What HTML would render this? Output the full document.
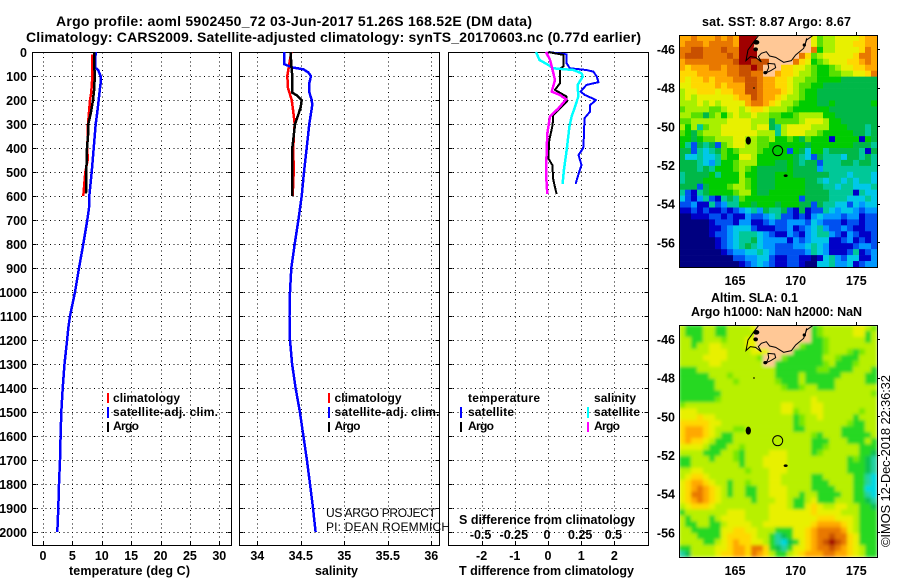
<!DOCTYPE html>
<html lang="en">
<head>
<meta charset="utf-8">
<title>Argo profile 5902450_72</title>
<style>
html,body{margin:0;padding:0;background:#fff;}
svg{display:block;}
text{font-family:"Liberation Sans",sans-serif;font-weight:bold;font-size:12.5px;fill:#000;}
.thin{font-weight:normal;font-size:12px;}
.stamp{font-weight:normal;font-size:13px;}
.lg text{font-size:12px;}
</style>
</head>
<body>
<svg id="chart" xmlns="http://www.w3.org/2000/svg" width="900" height="580" viewBox="0 0 900 580">
<defs>
<clipPath id="clip-map"><rect x="0" y="0" width="198" height="232"/></clipPath>
<filter id="soft" x="-5%" y="-5%" width="110%" height="110%"><feGaussianBlur stdDeviation="1.6"/></filter>
</defs>
<rect width="900" height="580" fill="#fff"/>
<text x="56" y="26" style="font-size:14px" textLength="476" lengthAdjust="spacing">Argo profile: aoml 5902450_72 03-Jun-2017 51.26S 168.52E (DM data)</text>
<text x="26" y="42" style="font-size:14px" textLength="615" lengthAdjust="spacing">Climatology: CARS2009. Satellite-adjusted climatology: synTS_20170603.nc (0.77d earlier)</text>
<g id="panel-t"></g>
<g id="panel-s"></g>
<g id="panel-d"></g>

<text x="69" y="575" textLength="121" lengthAdjust="spacing">temperature (deg C)</text>
<text x="315" y="575" textLength="43" lengthAdjust="spacing">salinity</text>
<text x="459" y="575" textLength="175" lengthAdjust="spacing">T difference from climatology</text>
<text x="459" y="524" textLength="176" lengthAdjust="spacing">S difference from climatology</text>

<g class="lg">
<rect x="107" y="393" width="2" height="10" fill="#f00"/>
<text x="113" y="402" textLength="67" lengthAdjust="spacing">climatology</text>
<rect x="107" y="407" width="2" height="11" fill="#00f"/>
<text x="113" y="416" textLength="105" lengthAdjust="spacing">satellite-adj. clim.</text>
<rect x="107" y="422" width="2" height="10" fill="#000"/>
<text x="113" y="430" textLength="26" lengthAdjust="spacing">Argo</text>
</g>
<g class="lg">
<rect x="328" y="393" width="2" height="10" fill="#f00"/>
<text x="334.5" y="402" textLength="67" lengthAdjust="spacing">climatology</text>
<rect x="328" y="407" width="2" height="11" fill="#00f"/>
<text x="334.5" y="416" textLength="105" lengthAdjust="spacing">satellite-adj. clim.</text>
<rect x="328" y="422" width="2" height="10" fill="#000"/>
<text x="334.5" y="430" textLength="26" lengthAdjust="spacing">Argo</text>
</g>
<text class="thin" x="326" y="517" textLength="110" lengthAdjust="spacing">US ARGO PROJECT</text>
<text class="thin" x="326" y="531" textLength="124" lengthAdjust="spacing">PI: DEAN ROEMMICH</text>
<g class="lg">
<text x="468" y="402" textLength="72" lengthAdjust="spacing">temperature</text>
<rect x="460" y="407" width="2" height="11" fill="#00f"/>
<text x="468" y="416" textLength="46" lengthAdjust="spacing">satellite</text>
<rect x="460" y="422" width="2" height="10" fill="#000"/>
<text x="468" y="430" textLength="26" lengthAdjust="spacing">Argo</text>
<text x="594" y="402" textLength="42" lengthAdjust="spacing">salinity</text>
<rect x="587" y="407" width="2" height="11" fill="#0ff"/>
<text x="594" y="416" textLength="46" lengthAdjust="spacing">satellite</text>
<rect x="587" y="422" width="2" height="10" fill="#f0f"/>
<text x="594" y="430" textLength="26" lengthAdjust="spacing">Argo</text>
</g>

<text x="702" y="26" textLength="149" lengthAdjust="spacing">sat. SST: 8.87 Argo: 8.67</text>
<text x="711" y="302" textLength="87" lengthAdjust="spacing">Altim. SLA: 0.1</text>
<text x="691" y="316" textLength="171" lengthAdjust="spacing">Argo h1000: NaN h2000: NaN</text>
<g id="map-sst"></g>
<g id="map-sla"></g>
<text class="stamp" transform="translate(890,547) rotate(-90)" textLength="172" lengthAdjust="spacing">©IMOS 12-Dec-2018 22:36:32</text>
</svg>
<script>
// ---- profile data ----
const depthTicks = [0,100,200,300,400,500,600,700,800,900,1000,1100,1200,1300,1400,1500,1600,1700,1800,1900,2000];
const tempTicks = [0,5,10,15,20,25,30];
const salTicks = [34,34.5,35,35.5,36];
const salTickLabels = ['34','34.5','35','35.5','36'];
const diffTTicks = [-2,-1,0,1,2];
const diffSTicks = [-0.5,-0.25,0,0.25,0.5];
const diffSLabels = ['-0.5','-0.25','0','0.25','0.5'];

const satDepth = [0,50,65,75,100,120,150,200,250,300,400,500,600,650,700,800,900,1000,1100,1150,1200,1300,1400,1500,1600,1700,1800,1900,2000];
const satTemp = [8.96,8.85,8.85,9.4,9.8,9.87,9.7,9.47,9.24,8.96,8.63,8.28,7.88,7.83,7.54,6.86,6.13,5.45,4.6,4.3,4.1,3.66,3.35,3.12,3.0,2.9,2.72,2.6,2.44];
const climTempDepth = [10,100,170,200,250,300,400,450,500,600];
const climTemp = [8.34,8.4,8.2,8.0,7.83,7.66,7.54,7.6,7.2,6.86];
const argoTempDepth = [0,50,100,150,200,250,300,350,400,500,590];
const argoTemp = [8.73,8.73,8.8,8.73,8.5,8.17,7.71,7.66,7.49,7.37,7.32];

const satSalDepth = [0,50,55,65,72,85,100,130,170,200,220,300,400,500,600,700,800,900,1000,1100,1200,1300,1400,1500,1600,1700,1800,1900,2000];
const satSal = [34.307,34.307,34.338,34.414,34.53,34.586,34.617,34.598,34.6,34.625,34.632,34.598,34.568,34.537,34.51,34.472,34.43,34.391,34.376,34.37,34.376,34.4,34.44,34.49,34.53,34.57,34.606,34.64,34.67];
const climSalDepth = [0,50,100,150,200,250,300,350,400,500,600];
const climSal = [34.39,34.368,34.345,34.353,34.395,34.414,34.43,34.42,34.414,34.418,34.407];
const argoSalDepth = [0,50,100,170,180,200,230,260,300,350,400,500,600];
const argoSal = [34.384,34.39,34.402,34.402,34.453,34.51,34.499,34.472,34.433,34.418,34.402,34.402,34.402];

const dTSatDepth = [0,10,47,68,75,82,103,126,137,165,179,200,221,248,276,353,401,429,471,499,550];
const dTSat = [0.01,0.56,0.56,0.66,1.16,1.37,1.47,1.52,1.16,0.98,1.11,1.45,1.27,1.27,1.10,1.08,1.06,0.92,1.01,0.94,0.83];
const dTArgoDepth = [0,12,61,68,130,158,186,207,228,262,304,367,443,471,533,592];
const dTArgo = [0.01,0.46,0.46,0.36,0.36,0.21,0.56,0.57,0.41,0.16,0.14,0.04,0.01,0.13,0.16,0.26];
const dSSatDepth = [0,33,54,68,75,89,103,137,186,228,269,311,408,492,550];
const dSSat = [-0.09,-0.065,0.003,0.04,0.191,0.254,0.261,0.223,0.228,0.203,0.178,0.161,0.141,0.12,0.11];
const dSArgoDepth = [0,33,75,117,165,179,197,235,269,339,408,505,592];
const dSArgo = [-0.015,0.015,0.035,0.053,0.028,0.09,0.136,0.078,0.015,-0.005,-0.01,-0.015,-0.005];

// ---- map data: one letter per cell, a = coldest/lowest level, p = warmest/highest, x = land ----
const mapLons = [165,170,175];
const mapLats = [-46,-48,-50,-52,-54,-56];
const sstColors = ['#000080','#0000c8','#0050f0','#0098ff','#00c8e8','#00c898','#00b848','#00cc00','#58e000','#a8f000','#e8f000','#ffd800','#ffa800','#e87800','#c85000','#a00000'];
const slaColors = ['#000080','#0000c8','#0050f0','#0098ff','#00d8e0','#20d0a0','#10c050','#28d820','#78e800','#b8f000','#e8f000','#ffd800','#ffa800','#e87800','#c85000','#a00000'];
const sstRows = [
"mmnmmmnmnmpppxxxxxxxxxkijjkkkklmm",
"mnnnmnnnnmpppxxxxxxxxxkijjkkkllmm",
"nnoonnnonnpppxxxxxxxxxnhjjkkkklnm",
"nooonnnnonpppxxxxxxxnlijkkkkklnnm",
"mnnnnnnnnoppoooxxxxnlkhijkkkllmnm",
"mlmmmnnmnnoopoxxxllkkjihhijkkllmm",
"lllmmmmmnnoonnxxmllkjjihhiijjkkln",
"lkllmlmmmnnoonmmllkjjiihhhhgggggg",
"kkllllmlmmmoonmmllkjiihhggggggggg",
"jkklllkllmmoonmmmlkjihhgggggggggg",
"jkjkkkkkklmmonmmlkjjihhgggggggggg",
"jjjkjkjkkkkmnnmlkjjihhhgghggggggh",
"ijjjjiijkkjkllkjjjihhhhhhgggggggg",
"jjiigijhjkjjkjjiihhijjjjhhggggggg",
"iijjjjjjkkkkjjjgiiiijkkkjhhgggggg",
"jhjfijjkkkkkjkkgfjkkkkjjjhhhgggfg",
"ihgijjjkkkkkkjjjfjkkkjjihhhhhggfg",
"hhghiijjjkkjjiijhhihgihhhbhhhhbhg",
"hfcgfgcijkkjjiihhhhhhghhhhhhhgggf",
"ggcfefgihijjjihhhhchgehhfgggggfbg",
"geefeefihhkkjhhhhhhgfecgfffeggfgf",
"gggfedfhhijjjhhhgghgfggcfffggfggf",
"gggfgfhhhijihggggghggggdfffffffff",
"fgggghfhhhjhhggghhhggggggfffefffe",
"fggghhhhhhjihggghhhhhggfeffefeffe",
"gggcghhhijjihggghhhhhgggffeffeeef",
"fcbfghhhhijjhgghhhhhhggggffffbfee",
"ecbdfcbfgfihhhhhhhhhcggggfffeeefe",
"ccdbbfcdffhhghhhghhhggcgffeecedee",
"bbcbcbbcbcdefdgffgcbgbccfedeedcdd",
"aabbbccbcbbdccdefccbcbdedddcddbcc",
"aaaaabcccbddbbcdccdddcedcccbccbcc",
"aaaaabbcdeeecbbbccdbcdefdccdcbbcc",
"aaaaabccdefffedcbbdcbdeffdcbdcbbc",
"aaaaaabcdeffgeddddbdcdeeebbcdbcbc",
"aaaaaabcdefgfeddcccddefedbbbbcddc",
"aaaaaaabcddeefedcccccdfedbbbcfbcd",
"aaaaaaaaaccddeecbbccbbabefdceebbd",
"aaaaaaaaaabcdedcbbccbaaeefddebcdd"
];
const slaRows = [
"jhhhjjhhjjjjkxxxxxxxxxhijjjjjkkji",
"jhhhjjhhjjjjjxxxxxxxxxhijjjjjkkhj",
"jjhhjjjijjjkkxxxxxxxxxhhijjjjjjhj",
"jjhjjkkjjjjkkxxxxxxxihhhijjjjjjjj",
"jjjjjkkkjjjjkkkxxxxhhhhhijjjihijj",
"jjjjkkkkjjjjjixxxihhhhhhjjihhhjjj",
"jjjjjkkjjjjjjjxxhhhhhhhhijhhhijjj",
"hhhjjjjjjjjjjjjjhhhhhhhiihhhhjjjh",
"hhhhhjjjijjjjjjjhhhhjhhhhhhjjjjhh",
"hhhhhhjjjijjjjjjihhhjhhhhhjjjjjhh",
"hhhhhhjjjjjjjjjjjihhijjhhhjjjjjjj",
"hhhhhhhjjjjjjjjjjjjjjjjjjjjjjjjji",
"hhhhhhijjjjjjjjjjjjjjjkjjjjjjjjjj",
"ijjjjjjjjjjjjjjjjkkjjjkkjjjjjjjjj",
"kkkjjjjjjjjjjjjjjkkijjkkjjjjjjijj",
"kkklkkjjjjjjjjjjjjjhijjkjjjjjhjjj",
"lllllkkjjjjjjjjjjjjhijjjjjjjihhjj",
"lmmmlkjjjiijjjjjjjjhhjjjjjjhhhhjj",
"lmmmlkjhhjjjjjjjjjjjjjihjjjhhhhhj",
"lmllkjhhhjjjjjjjjjjjjjhhhjjjhhhjh",
"kkkkjhhhjjijjjjjjjjjjjhhijjjjjhhh",
"jjjjhhhjjihjjjjkkkjjjjhijjjjjjhhg",
"hhjjjhjjjihjjjkkkkjjjjjjjjjjhihgf",
"hhjjjjjjjjhjjjkkkkjjjjjjjjjjhhhgf",
"jjkkjjjjjjjijjjkkkjjjjjjjjjjhhhgf",
"jkllkjjjjjjjjjjkkjjjjjhhjjjjjhhfe",
"klmmlkjjhjjijjjkkjjjjjhhhjjjjhhfe",
"klmnmlkjhjjhhjjkkkjjjjhhhhjjjhhee",
"klnnmlkjhjjhhjjkkkjjhjjhhhhjjhhfe",
"klmnmlkjjjjjhjjjkkjhhjkhhhjjjhhgf",
"jklllkjjjjjjjjjkkkjhhklkjjkkjjhhg",
"hjjjjjjjkkkjjjjkkkkkkklkkkkjjjhhh",
"jhjjjhjkkkkjjjjkkkkkkkklllkkkjhhh",
"jhhjjhhjkkkkjjkkkkkkkklmmmmlkjhhh",
"jjhhhhhkkllkkjjjhhhkklmnnnnmkjhhh",
"jjjhhhhkllllkjjhfghkklmnnonnlkhhh",
"jjjjhhjklmllkkjhfeghklmnoponlkhhh",
"hhjjjjkklmmlnnlhgfhkklmnnonmlkjhh",
"fgjjjjkllmmlnmljhhjklmmmnnmmlkjhh"
];

const SVGNS = 'http://www.w3.org/2000/svg';
const depthY = d => 52 + 0.24 * d;
const tempX = t => 43 + 5.877 * t;
const salX = s => 257.3 + 87 * (s - 34);
const dTX = v => 548 + 33.2 * v;
const dSX = v => 548 + 132.8 * v;
const PANEL_TOP = 52.5, PANEL_BOTTOM = 545.5;

function mk(tag, parent) {
  const el = document.createElementNS(SVGNS, tag);
  parent.appendChild(el);
  
  return el;
}
function seg(parent, x1, y1, x2, y2, dash, name) {
  const l = mk('line', parent);
  
  l.setAttribute('x1', x1); l.setAttribute('y1', y1);
  l.setAttribute('x2', x2); l.setAttribute('y2', y2);
  l.setAttribute('stroke', '#000');
  l.setAttribute('stroke-width', '1');
  l.setAttribute('shape-rendering', 'crispEdges');
  if (dash) l.setAttribute('stroke-dasharray', dash);
  return l;
}
function txt(parent, x, y, s, anchor, name) {
  const t = mk('text', parent);
  
  t.setAttribute('x', x); t.setAttribute('y', y);
  t.setAttribute('text-anchor', anchor);
  t.textContent = s;
  return t;
}
function snap(v) { return Math.round(v) + 0.5; }

function panel(id, left, right, xTicks, xFn, xLabels, showDepthLabels) {
  const g = document.getElementById(id);
  depthTicks.forEach(d => {
    const y = snap(depthY(d));
    if (d > 0) seg(g, left, y, right, y, '1 3.4', 'depth-gridline');
    seg(g, left, y, left + 4, y, null, 'depth-tick');
    seg(g, right - 4, y, right, y, null, 'depth-tick');
    if (showDepthLabels) txt(g, 27, depthY(d) + 5, String(d), 'end', 'depth-tick-label');
  });
  xTicks.forEach((v, i) => {
    const x = snap(xFn(v));
    seg(g, x, PANEL_TOP, x, PANEL_BOTTOM, '1 3.4', 'x-gridline');
    seg(g, x, PANEL_BOTTOM - 4, x, PANEL_BOTTOM, null, 'x-tick');
    txt(g, xFn(v), 560, xLabels[i], 'middle', 'x-tick-label');
  });
  const f = mk('rect', g);
  
  f.setAttribute('x', left); f.setAttribute('y', PANEL_TOP);
  f.setAttribute('width', right - left); f.setAttribute('height', PANEL_BOTTOM - PANEL_TOP);
  f.setAttribute('fill', 'none'); f.setAttribute('stroke', '#000');
  f.setAttribute('shape-rendering', 'crispEdges');
  return g;
}
function series(g, depths, values, xFn, color, width, name) {
  const p = mk('polyline', g);
  
  p.setAttribute('points', depths.map((d, i) => xFn(values[i]).toFixed(1) + ',' + depthY(d).toFixed(1)).join(' '));
  p.setAttribute('fill', 'none');
  p.setAttribute('stroke', color);
  p.setAttribute('stroke-width', width);
  p.setAttribute('stroke-linejoin', 'round');
  p.setAttribute('shape-rendering', 'crispEdges');
}

const gT = panel('panel-t', 32.5, 231.5, tempTicks, tempX, tempTicks.map(String), true);
series(gT, climTempDepth, climTemp, tempX, '#f00', 2.5, 'climatology-temperature-line');
series(gT, satDepth, satTemp, tempX, '#00f', 2.5, 'satellite-temperature-line');
series(gT, argoTempDepth, argoTemp, tempX, '#000', 2.5, 'argo-temperature-line');

const gS = panel('panel-s', 239.5, 439.5, salTicks, salX, salTickLabels, false);
series(gS, climSalDepth, climSal, salX, '#f00', 2.5, 'climatology-salinity-line');
series(gS, satSalDepth, satSal, salX, '#00f', 2.5, 'satellite-salinity-line');
series(gS, argoSalDepth, argoSal, salX, '#000', 2.5, 'argo-salinity-line');

const gD = panel('panel-d', 448.5, 648.5, diffTTicks, dTX, diffTTicks.map(String), false);
diffSTicks.forEach((v, i) => {
  txt(gD, dSX(v) - 1, 539, diffSLabels[i], 'middle', 's-difference-tick-label');
});
series(gD, dTSatDepth, dTSat, dTX, '#00f', 2, 'temperature-difference-satellite-line');
series(gD, dTArgoDepth, dTArgo, dTX, '#000', 2, 'temperature-difference-argo-line');
series(gD, dSSatDepth, dSSat, dSX, '#0ff', 2.5, 'salinity-difference-satellite-line');
series(gD, dSArgoDepth, dSArgo, dSX, '#f0f', 2.5, 'salinity-difference-argo-line');

// ---- maps ----
const MAP_LEFT = 679, MAP_W = 198, MAP_H = 232;
const lonX = lon => 56 + (lon - 165) * 12.13;
const latY = lat => 14 + (-46 - lat) * 19.33;

function drawMap(id, top, rows, colors, soft) {
  const g = document.getElementById(id);
  g.setAttribute('transform', 'translate(' + MAP_LEFT + ',' + top + ')');
  const clip = mk('g', g);
  
  clip.setAttribute('clip-path', 'url(#clip-map)');
  const cells = mk('g', clip);
  
  if (soft) cells.setAttribute('filter', 'url(#soft)');
  const cw = MAP_W / 33, ch = MAP_H / rows.length;
  rows.forEach((row, r) => {
    for (let c = 0; c < 33; c++) {
      const ch0 = row[c] || row[row.length - 1];
      const rect = mk('rect', cells);
      
      rect.setAttribute('x', (c * cw).toFixed(2));
      rect.setAttribute('y', (r * ch).toFixed(2));
      rect.setAttribute('width', (cw + 0.3).toFixed(2));
      rect.setAttribute('height', (ch + 0.3).toFixed(2));
      rect.setAttribute('fill', ch0 === 'x' ? '#ffc896' : colors[ch0.charCodeAt(0) - 97]);
    }
  });
  // land and coast, drawn on a 3x grid relative to the map's corner
  const geo = mk('g', clip);
  
  geo.setAttribute('transform', 'scale(0.3333) translate(-58,-105)');
  const land = mk('path', geo);
  
  land.setAttribute('d', 'M297 100L285 122L282 145L295 155L315 155L325 165L345 170L360 180L375 187L395 180L415 150L430 135L441 100Z');
  land.setAttribute('fill', '#ffc896');
  const stewart = mk('path', geo);
  
  stewart.setAttribute('d', 'M325 190L345 192L348 203L333 212L320 218L327 203Z');
  stewart.setAttribute('fill', '#ffc896');
  stewart.setAttribute('stroke', '#000');
  stewart.setAttribute('stroke-width', '3');
  const coast = mk('path', geo);
  
  coast.setAttribute('d', 'M298 105L285 122L265 150L259 182L272 170L288 172L305 186L296 170L305 160L320 155L330 168L348 172L372 187L395 182L408 165L432 145L441 120L462 105M441 115L436 135');
  coast.setAttribute('fill', 'none');
  coast.setAttribute('stroke', '#000');
  coast.setAttribute('stroke-width', '3');
  const blobs = [[290,127,9,7],[288,148,7,6],[317,218,6,5],[266,422,8,12],[378,527,6,4],[283,264,2,3],[434,135,5,5]];
  blobs.forEach(b => {
    const e = mk('ellipse', geo);
    
    e.setAttribute('cx', b[0]); e.setAttribute('cy', b[1]);
    e.setAttribute('rx', b[2]); e.setAttribute('ry', b[3]);
    e.setAttribute('fill', '#000');
  });
  const marker = mk('circle', g);
  
  marker.setAttribute('cx', lonX(168.52));
  marker.setAttribute('cy', latY(-51.26));
  marker.setAttribute('r', 5);
  marker.setAttribute('fill', 'none');
  marker.setAttribute('stroke', '#000');
  marker.setAttribute('stroke-width', '1');
  const frame = mk('rect', g);
  
  frame.setAttribute('x', 0.5); frame.setAttribute('y', 0.5);
  frame.setAttribute('width', MAP_W); frame.setAttribute('height', MAP_H);
  frame.setAttribute('fill', 'none'); frame.setAttribute('stroke', '#000');
  frame.setAttribute('shape-rendering', 'crispEdges');
  mapLons.forEach(lon => {
    const x = snap(lonX(lon));
    seg(g, x, -3, x, 0, null, 'longitude-tick');
    txt(g, lonX(lon), MAP_H + 18, String(lon), 'middle', 'longitude-label');
  });
  mapLats.forEach(lat => {
    const y = snap(latY(lat));
    seg(g, MAP_W, y, MAP_W + 3, y, null, 'latitude-tick');
    txt(g, -4, latY(lat) + 5, String(lat), 'end', 'latitude-label');
  });
}
drawMap('map-sst', 35, sstRows, sstColors, false);
drawMap('map-sla', 325, slaRows, slaColors, true);
</script>
</body>
</html>
